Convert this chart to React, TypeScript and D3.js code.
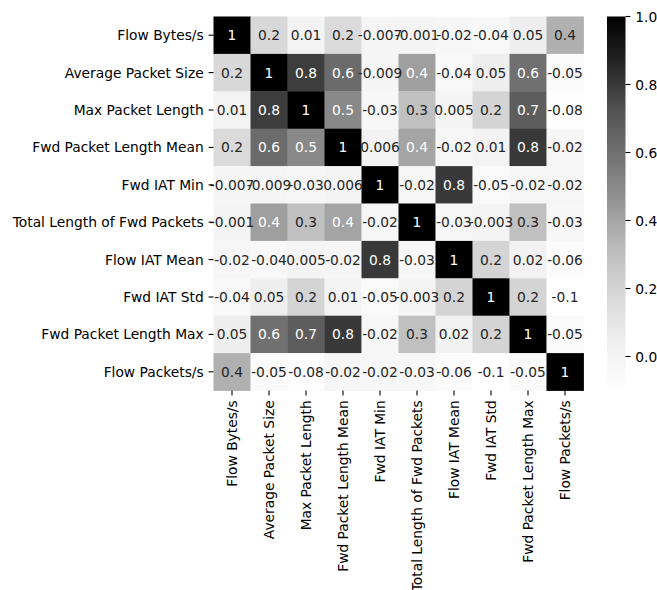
import React from "react";
import * as d3 from "d3";

// Feature names (rows and columns share the same order)
const features: string[] = [
  "Flow Bytes/s",
  "Average Packet Size",
  "Max Packet Length",
  "Fwd Packet Length Mean",
  "Fwd IAT Min",
  "Total Length of Fwd Packets",
  "Flow IAT Mean",
  "Fwd IAT Std",
  "Fwd Packet Length Max",
  "Flow Packets/s",
];

// Pairwise correlation coefficients, one row per feature
const rowFlowBytes = [1, 0.18, 0.012, 0.17, -0.007, -0.001, -0.021, -0.04, 0.05, 0.36];
const rowAvgPacketSize = [0.18, 1, 0.79, 0.62, -0.009, 0.42, -0.04, 0.05, 0.6, -0.05];
const rowMaxPacketLength = [0.012, 0.79, 1, 0.5, -0.03, 0.3, 0.005, 0.2, 0.68, -0.08];
const rowFwdPktLenMean = [0.17, 0.62, 0.5, 1, 0.006, 0.4, -0.02, 0.01, 0.8, -0.02];
const rowFwdIatMin = [-0.007, -0.009, -0.03, 0.006, 1, -0.02, 0.8, -0.05, -0.02, -0.02];
const rowTotalLenFwd = [-0.001, 0.42, 0.3, 0.4, -0.02, 1, -0.03, -0.003, 0.3, -0.03];
const rowFlowIatMean = [-0.021, -0.04, 0.005, -0.02, 0.8, -0.03, 1, 0.2, 0.02, -0.06];
const rowFwdIatStd = [-0.04, 0.05, 0.2, 0.01, -0.05, -0.003, 0.2, 1, 0.2, -0.1];
const rowFwdPktLenMax = [0.05, 0.6, 0.68, 0.8, -0.02, 0.3, 0.02, 0.2, 1, -0.05];
const rowFlowPackets = [0.36, -0.05, -0.08, -0.02, -0.02, -0.03, -0.06, -0.1, -0.05, 1];

const matrix: number[][] = [
  rowFlowBytes,
  rowAvgPacketSize,
  rowMaxPacketLength,
  rowFwdPktLenMean,
  rowFwdIatMin,
  rowTotalLenFwd,
  rowFlowIatMean,
  rowFwdIatStd,
  rowFwdPktLenMax,
  rowFlowPackets,
];

const colorbarTicks = [0.0, 0.2, 0.4, 0.6, 0.8, 1.0];

// Greys ramp stops
const greyStops = ["#ffffff", "#f0f0f0", "#d9d9d9", "#bdbdbd", "#969696", "#737373", "#525252", "#252525", "#000000"];

const W = 657;
const H = 590;
const gridLeft = 213.5;
const gridRight = 583.5;
const gridTop = 16.5;
const gridBottom = 390.5;
const cbLeft = 607;
const cbRight = 625.5;
const FONT = "DejaVu Sans, sans-serif";
const FS = 13.8;
const TICK = 4.9;
const PAD = 4.9;

const allValues = matrix.flat();
const vmin = d3.min(allValues) as number;
const vmax = d3.max(allValues) as number;

const norm = d3.scaleLinear().domain([vmin, vmax]).range([0, 1]).clamp(true);
const greys = d3
  .scaleLinear<string>()
  .domain(greyStops.map((_, i) => i / (greyStops.length - 1)))
  .range(greyStops)
  .interpolate(d3.interpolateRgb);
const colorOf = (v: number) => greys(norm(v));

const lin = (c: number) => (c <= 0.03928 ? c / 12.92 : Math.pow((c + 0.055) / 1.055, 2.4));
const luminance = (col: string) => {
  const c = d3.rgb(col);
  return 0.2126 * lin(c.r / 255) + 0.7152 * lin(c.g / 255) + 0.0722 * lin(c.b / 255);
};

const fmt = d3.formatLocale({ decimal: ".", thousands: ",", grouping: [3], currency: ["", ""], minus: "-" }).format(".1");
const fmtTick = d3.format(".1f");

export default function App() {
  const x = d3.scaleBand<number>().domain(d3.range(features.length)).range([gridLeft, gridRight]);
  const y = d3.scaleBand<number>().domain(d3.range(features.length)).range([gridTop, gridBottom]);
  const cbY = d3.scaleLinear().domain([vmin, vmax]).range([gridBottom, gridTop]);
  const gradStops = d3.range(0, 1.0001, 1 / 64);

  return (
    <svg
      width={W}
      height={H}
      style={{ position: "absolute", left: 0, top: 0, background: "#fff" }}
      fontFamily={FONT}
      fontSize={FS}
    >
      <defs>
        <linearGradient id="cbGrad" x1="0" y1="1" x2="0" y2="0">
          {gradStops.map((t, i) => (
            <stop key={i} offset={t} stopColor={greys(t)} />
          ))}
        </linearGradient>
      </defs>

      {/* cells */}
      {matrix.map((row, r) =>
        row.map((v, c) => (
          <rect
            key={`c${r}-${c}`}
            x={x(c)}
            y={y(r)}
            width={x.bandwidth() + 0.4}
            height={y.bandwidth() + 0.4}
            fill={colorOf(v)}
          />
        ))
      )}

      {/* annotations */}
      {matrix.map((row, r) =>
        row.map((v, c) => {
          const col = colorOf(v);
          return (
            <text
              key={`t${r}-${c}`}
              x={(x(c) as number) + x.bandwidth() / 2}
              y={(y(r) as number) + y.bandwidth() / 2}
              textAnchor="middle"
              dominantBaseline="central"
              fill={luminance(col) > 0.408 ? "#262626" : "#ffffff"}
            >
              {fmt(v)}
            </text>
          );
        })
      )}

      {/* row labels */}
      {features.map((f, i) => {
        const cy = (y(i) as number) + y.bandwidth() / 2;
        return (
          <g key={`yl${i}`}>
            <line x1={gridLeft - TICK} x2={gridLeft} y1={cy} y2={cy} stroke="#000" strokeWidth={1.1} />
            <text x={gridLeft - TICK - PAD} y={cy} textAnchor="end" dominantBaseline="central" fill="#000">
              {f}
            </text>
          </g>
        );
      })}

      {/* column labels */}
      {features.map((f, i) => {
        const cx = (x(i) as number) + x.bandwidth() / 2;
        return (
          <g key={`xl${i}`}>
            <line x1={cx} x2={cx} y1={gridBottom} y2={gridBottom + TICK} stroke="#000" strokeWidth={1.1} />
            <text
              transform={`translate(${cx},${gridBottom + TICK + PAD}) rotate(-90)`}
              textAnchor="end"
              dominantBaseline="central"
              fill="#000"
            >
              {f}
            </text>
          </g>
        );
      })}

      {/* colorbar */}
      <rect x={cbLeft} y={gridTop} width={cbRight - cbLeft} height={gridBottom - gridTop} fill="url(#cbGrad)" />
      {colorbarTicks.map((t) => (
        <g key={`cb${t}`}>
          <line x1={cbRight} x2={cbRight + TICK} y1={cbY(t)} y2={cbY(t)} stroke="#000" strokeWidth={1.1} />
          <text x={cbRight + TICK + PAD} y={cbY(t)} dominantBaseline="central" fill="#000">
            {fmtTick(t)}
          </text>
        </g>
      ))}
    </svg>
  );
}
